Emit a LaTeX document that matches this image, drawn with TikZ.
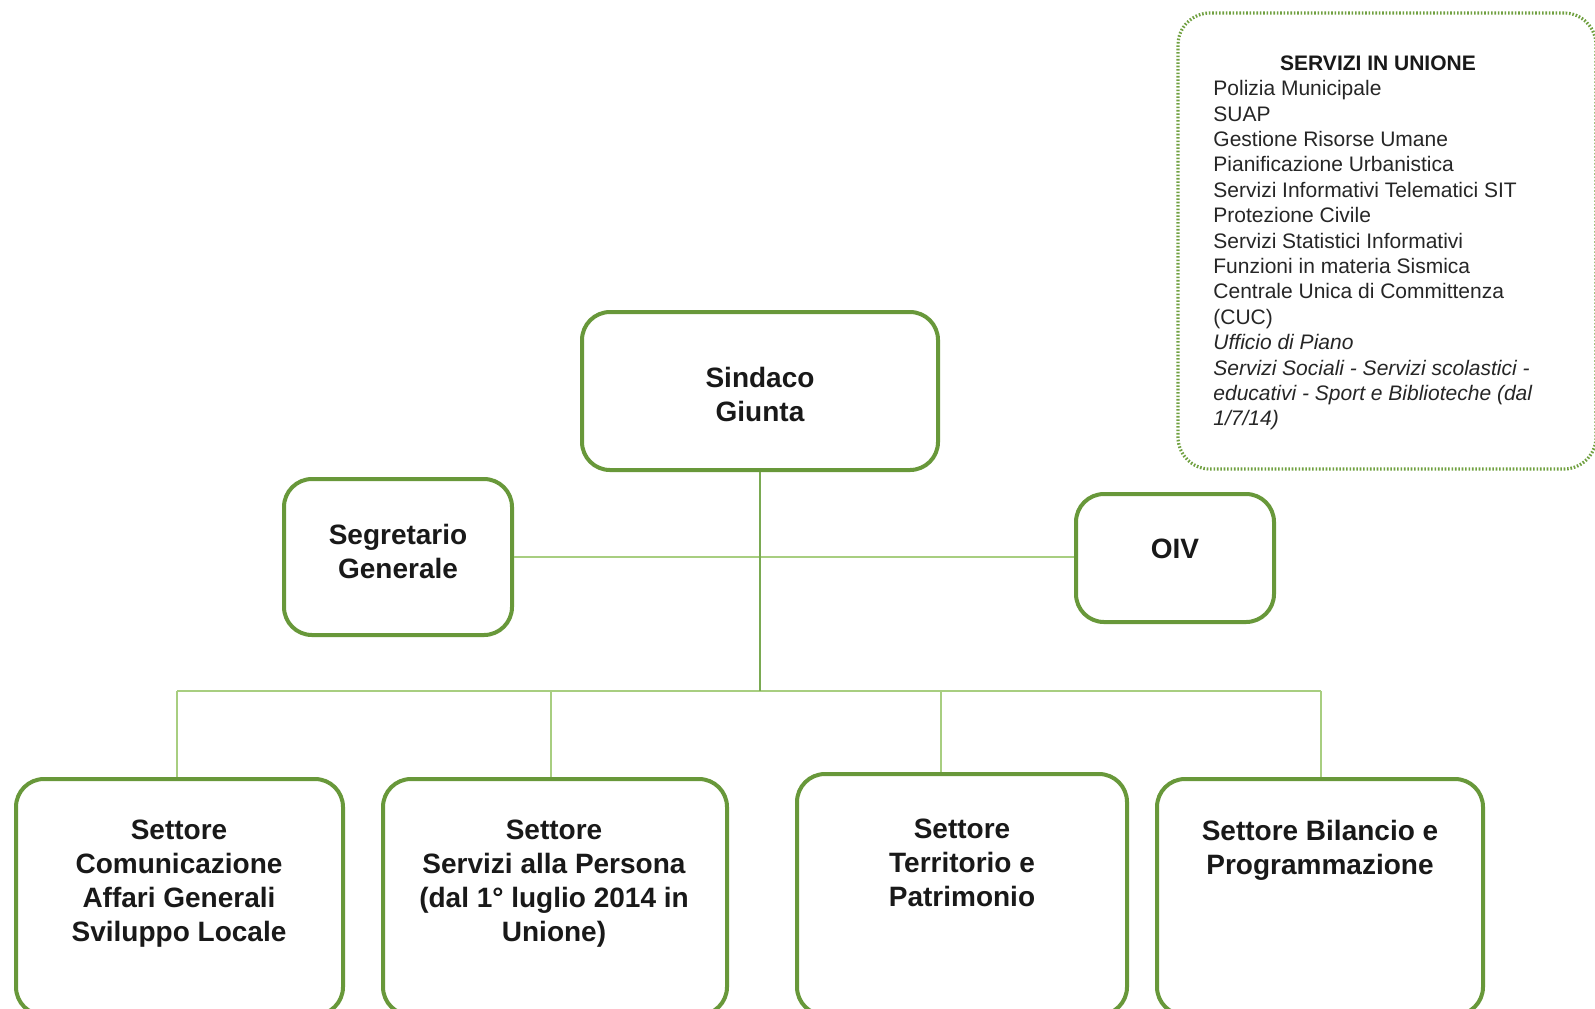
\documentclass[tikz,border=0pt]{standalone}
\usepackage{fontspec}
\setmainfont{Liberation Sans}
\definecolor{boxgreen}{RGB}{104,152,58}
\definecolor{linegreen}{RGB}{168,206,128}
\definecolor{stemgreen}{RGB}{122,170,82}
\definecolor{dotgreen}{RGB}{112,160,64}
\tikzset{
  orgbox/.style={draw=boxgreen, line width=2pt, rounded corners=14pt, fill=white, inner sep=0pt},
  boxtext/.style={font=\fontsize{14}{17}\selectfont\bfseries, align=center, inner sep=0pt, text=black!90},
  conn/.style={draw=linegreen, line width=1.3pt},
  stem/.style={draw=stemgreen, line width=1pt},
  dotbox/.style={draw=dotgreen, line width=1.6pt, dash pattern=on 0.8pt off 0.9pt, rounded corners=16pt, inner sep=0pt},
  listtext/.style={font=\fontsize{10.5}{12.7}\selectfont, align=left, inner sep=0pt, text=black!85}
}
\begin{document}
\begin{tikzpicture}[x=0.5pt, y=-0.5pt]
\useasboundingbox (0,0) rectangle (1595,1008);
\fill[white] (0,0) rectangle (1595,1008);

% dotted info box
\node[dotbox, minimum width=209pt, minimum height=228pt] (unione) at (1387,241) {};
\node[font=\fontsize{10.5}{12.7}\selectfont\bfseries, inner sep=0pt, text=black!90] (utitle) at (1378,63) {SERVIZI IN UNIONE};
\node[listtext, anchor=north west] (ulist) at (1213,80) {Polizia Municipale\\
SUAP\\
Gestione Risorse Umane\\
Pianificazione Urbanistica\\
Servizi Informativi Telematici SIT\\
Protezione Civile\\
Servizi Statistici Informativi\\
Funzioni in materia Sismica\\
Centrale Unica di Committenza\\
(CUC)\\
\itshape Ufficio di Piano\\
\itshape Servizi Sociali - Servizi scolastici -\\
\itshape educativi - Sport e Biblioteche (dal\\
\itshape 1/7/14)};

% coordinates of the bus
\coordinate (busL) at (177,691);
\coordinate (junc) at (760,691);
\coordinate (busR) at (1321,691);
\coordinate (d1) at (177,691);
\coordinate (d2) at (551,691);
\coordinate (d3) at (941,691);
\coordinate (d4) at (1321,691);

% boxes
\node[orgbox, minimum width=178pt, minimum height=79pt] (sind) at (760,391) {};
\node[orgbox, minimum width=114pt, minimum height=78pt] (seg) at (398,557) {};
\node[orgbox, minimum width=99pt, minimum height=64pt] (oiv) at (1175,558) {};
\node[orgbox, minimum width=163.5pt, minimum height=118pt] (b1) at (179.5,897) {};
\node[orgbox, minimum width=172pt, minimum height=118pt] (b2) at (555,897) {};
\node[orgbox, minimum width=165pt, minimum height=120.5pt] (b3) at (962,894.5) {};
\node[orgbox, minimum width=163pt, minimum height=118pt] (b4) at (1320,897) {};

% connectors
\draw[conn] (seg.east) -- (seg.east -| oiv.west);
\draw[conn] (busL) -- (busR);
\draw[stem] (sind.south) -- (junc);
\draw[conn] (d1) -- (d1 |- b1.north);
\draw[conn] (d2) -- (d2 |- b2.north);
\draw[conn] (d3) -- (d3 |- b3.north);
\draw[conn] (d4) -- (d4 |- b4.north);

% texts
\node[boxtext] (tsind) at (760,394.5) {Sindaco\\Giunta};
\node[boxtext] (tseg) at (398,551.5) {Segretario\\Generale};
\node[boxtext] (toiv) at (1175,549) {OIV};
\node[boxtext] (tb1) at (179,884) {Settore\\Comunicazione\\Affari Generali\\Sviluppo Locale};
\node[boxtext] (tb2) at (554,884) {Settore\\Servizi alla Persona\\(dal 1° luglio 2014 in\\Unione)};
\node[boxtext] (tb3) at (962,862.5) {Settore\\Territorio e\\Patrimonio};
\node[boxtext] (tb4) at (1320,850) {Settore Bilancio e\\Programmazione};
\end{tikzpicture}
\end{document}
